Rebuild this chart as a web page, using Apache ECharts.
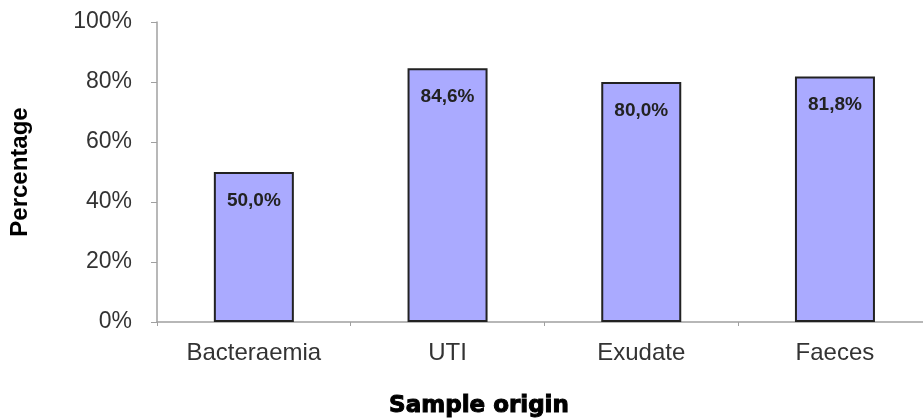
<!DOCTYPE html>
<html>
<head>
<meta charset="utf-8">
<script src="https://cdn.jsdelivr.net/npm/echarts@6/dist/echarts.min.js"></script>
<style>
html,body{margin:0;padding:0;background:#fff;}
#c{width:923px;height:418px;}
</style>
</head>
<body>
<div id="c"></div>
<script>
const categories = ['Bacteraemia', 'UTI', 'Exudate', 'Faeces'];
const values = [50.0, 84.6, 80.0, 81.8];
const yTicks = [0, 20, 40, 60, 80, 100];
const xTitle = 'Sample origin';
const yTitle = 'Percentage';

const chart = echarts.init(document.getElementById('c'), null, {renderer: 'canvas'});
chart.setOption({
  animation: false,
  backgroundColor: '#ffffff',
  title: {
    text: xTitle,
    left: 474,
    top: 390,
    textAlign: 'center',
    textStyle: {
      fontFamily: 'DejaVu Sans',
      fontWeight: 'bold',
      fontSize: 23,
      color: '#000',
      textBorderColor: '#000',
      textBorderWidth: 1
    }
  },
  grid: {left: 157, top: 22, width: 774.8, height: 300, containLabel: false, outerBoundsMode: 'none'},
  xAxis: {
    type: 'category',
    data: categories,
    axisLine: {lineStyle: {color: '#a0a0a0', width: 1.5}},
    axisTick: {show: true, length: 4, lineStyle: {color: '#a0a0a0'}},
    axisLabel: {margin: 19, fontSize: 24, color: '#333', fontFamily: 'Liberation Sans'}
  },
  yAxis: {
    type: 'value',
    min: yTicks[0],
    max: yTicks[yTicks.length - 1],
    interval: 20,
    name: yTitle,
    nameLocation: 'middle',
    nameGap: 125,
    nameRotate: 90,
    nameTextStyle: {fontFamily: 'Liberation Sans', fontWeight: 'bold', fontSize: 24, color: '#000'},
    axisLine: {show: true, lineStyle: {color: '#a0a0a0', width: 1.5}},
    axisTick: {show: true, length: 6, lineStyle: {color: '#a0a0a0'}},
    splitLine: {show: false},
    axisLabel: {margin: 25, fontSize: 23, color: '#333', fontFamily: 'Liberation Sans', formatter: '{value}%'}
  },
  series: [{
    type: 'bar',
    data: values,
    barWidth: 80,
    itemStyle: {color: '#aaaaff', borderColor: '#222', borderWidth: 2},
    label: {
      show: true,
      position: 'insideTop',
      distance: 19,
      fontFamily: 'Liberation Sans',
      fontWeight: 'bold',
      fontSize: 19,
      color: '#222',
      formatter: p => p.value.toFixed(1).replace('.', ',') + '%'
    }
  }]
});
</script>
</body>
</html>
